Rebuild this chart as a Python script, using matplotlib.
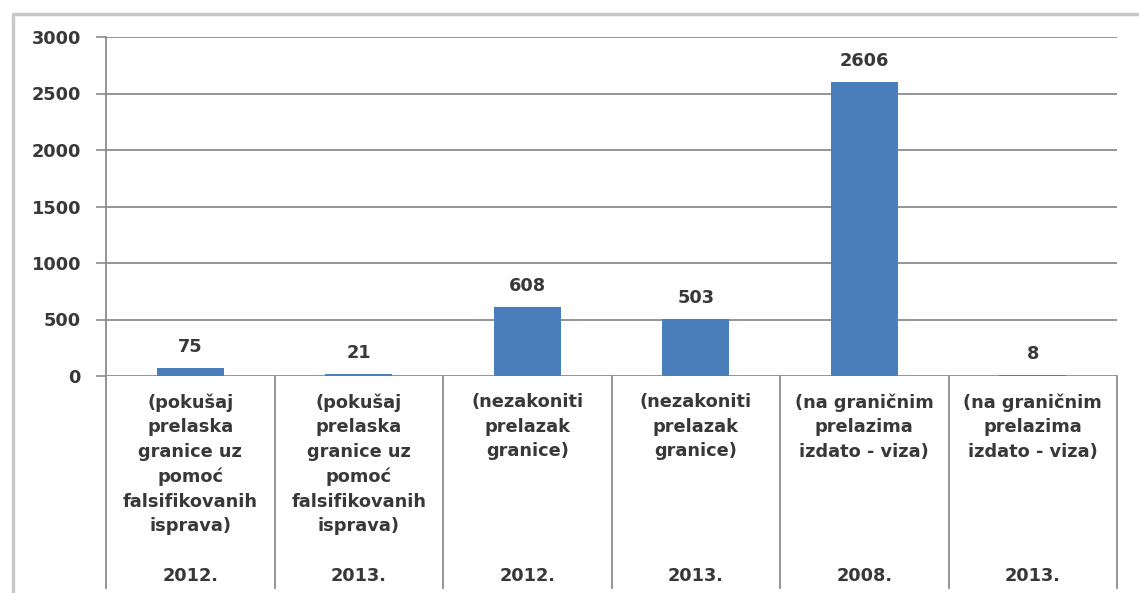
import matplotlib.pyplot as plt
from matplotlib.lines import Line2D

plt.rcParams['font.family'] = ['DejaVu Sans']

descriptions = [
    "(pokušaj\nprelaska\ngranice uz\npomoć\nfalsifikovanih\nisprava)",
    "(pokušaj\nprelaska\ngranice uz\npomoć\nfalsifikovanih\nisprava)",
    "(nezakoniti\nprelazak\ngranice)",
    "(nezakoniti\nprelazak\ngranice)",
    "(na graničnim\nprelazima\nizdato - viza)",
    "(na graničnim\nprelazima\nizdato - viza)",
]
years = ["2012.", "2013.", "2012.", "2013.", "2008.", "2013."]
values = [75, 21, 608, 503, 2606, 8]

W, H = 1139, 593
fig = plt.figure(figsize=(W / 100, H / 100), dpi=100)
ax = fig.add_axes([106 / W, (H - 376) / H, (1117 - 106) / W, (376 - 37) / H])

grid_c = '#8c8c8c'
text_c = '#383838'
bar_c = '#4a7ebb'
fs = 12.8

x = list(range(len(values)))
ax.bar(x, values, width=0.4, color=bar_c, zorder=3)
for xi, v in zip(x, values):
    ax.annotate(str(v), (xi, v), xytext=(0, 15), textcoords='offset points',
                ha='center', va='center', fontsize=fs, fontweight='bold',
                color=text_c)

ax.set_xlim(-0.5, len(values) - 0.5)
ax.set_ylim(0, 3000)
ax.set_yticks(range(0, 3001, 500))
ax.yaxis.grid(True, color=grid_c, linewidth=1.3, zorder=0)
ax.set_axisbelow(True)
ax.tick_params(axis='y', length=7, width=1.2, color=grid_c, pad=11,
               labelsize=fs, labelcolor=text_c)
for lab in ax.get_yticklabels():
    lab.set_fontweight('bold')
ax.set_xticks([])
for s in ['top', 'right', 'bottom']:
    ax.spines[s].set_visible(False)
ax.spines['left'].set_color(grid_c)
ax.spines['left'].set_linewidth(1.3)

# category separators below the axis
tr = ax.get_xaxis_transform()
depth = -(588 - 376) / (376 - 37)
for b in [i - 0.5 for i in range(len(values) + 1)]:
    ax.plot([b, b], [0, depth], transform=tr, color=grid_c, lw=1.3, clip_on=False)

y_desc = -(393 - 376) / (376 - 37)
y_year = -(576 - 376) / (376 - 37)
for xi, d, yr in zip(x, descriptions, years):
    ax.text(xi, y_desc, d, transform=tr, ha='center', va='top', fontsize=fs,
            fontweight='bold', color=text_c, linespacing=1.47)
    ax.text(xi, y_year, yr, transform=tr, ha='center', va='center', fontsize=fs,
            fontweight='bold', color=text_c)

# outer chart frame
fig.add_artist(Line2D([13 / W, 13 / W, 1.0], [0.0, 1 - 14 / H, 1 - 14 / H],
                      transform=fig.transFigure, color='#c8c8c8', lw=2.5))

fig.savefig('out.png', dpi=100)
